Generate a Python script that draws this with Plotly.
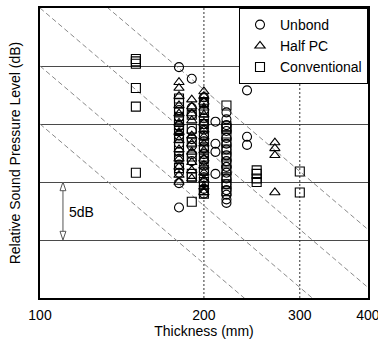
import plotly.graph_objects as go
import numpy as np

FONT = "Arial, Liberation Sans, sans-serif"

# ---- data (thickness in mm, relative SPL in dB) ----
unbond_x = [180]*12 + [190]*8 + [200]*17 + [210]*4 + [220]*17 + [240]*3
unbond_y = [14.9, 2.8, 11.2, 10.6, 9.8, 9.0, 8.3, 7.6, 7.0, 6.5, 5.8, 4.9,
            13.9, 11.4, 10.8, 9.4, 8.7, 8.1, 7.4, 6.8,
            12.3, 11.8, 11.2, 10.5, 10.0, 9.5, 9.0, 8.5, 7.9, 7.4, 6.9, 6.4, 5.9, 5.4, 4.9, 4.4, 4.0,
            10.2, 8.3, 7.6, 5.7,
            11.0, 10.4, 9.9, 9.4, 8.8, 8.3, 7.8, 7.3, 6.8, 6.3, 5.8, 5.3, 4.8, 4.3, 3.9, 3.5, 3.2,
            12.9, 8.9, 8.2]

halfpc_x = [180]*13 + [190]*10 + [200]*16 + [270]*4
halfpc_y = [13.6, 13.1, 12.4, 11.6, 10.9, 10.1, 9.3, 8.6, 7.8, 7.0, 6.3, 5.6, 5.0,
            12.1, 11.5, 10.9, 10.3, 9.0, 8.3, 7.6, 6.7, 6.0, 5.3,
            12.8, 12.4, 11.9, 11.4, 10.8, 10.1, 9.5, 8.9, 8.3, 7.7, 7.0, 6.4, 5.8, 5.2, 4.6, 4.1,
            8.4, 7.9, 7.3, 4.1]

conv_x = [150]*6 + [180]*10 + [190]*7 + [200]*10 + [220]*12 + [250]*4 + [300]*2
conv_y = [15.6, 15.4, 15.2, 13.1, 11.5, 5.8,
          12.2, 11.8, 11.0, 10.4, 9.9, 9.4, 8.8, 8.0, 7.2, 6.2,
          10.8, 9.6, 8.4, 7.2, 5.7, 5.4, 3.3,
          11.9, 11.0, 10.0, 9.0, 8.0, 7.0, 6.0, 5.0, 4.3, 4.0,
          11.6, 9.8, 9.6, 9.0, 8.4, 7.8, 7.2, 6.6, 6.0, 5.4, 4.8, 4.2,
          6.0, 5.7, 5.3, 5.0,
          5.9, 4.1]

# reference lines: level at 100 mm, slope -40 dB/decade
ref_levels = [25, 20, 15, 10]
ref_slope = -40
ref_x = [100, 400]

x_ticks = [100, 200, 300, 400]
y_grid = [0, 5, 10, 15]
guide_x = [200, 300]

fig = go.Figure()

for c in ref_levels:
    fig.add_trace(go.Scatter(
        x=ref_x, y=[c + ref_slope*np.log10(v/100) for v in ref_x],
        mode="lines", line=dict(color="#8a8a8a", width=1, dash="5px,3px"),
        showlegend=False, hoverinfo="skip"))

for gx in guide_x:
    fig.add_trace(go.Scatter(
        x=[gx, gx], y=[-5, 20], mode="lines",
        line=dict(color="#333333", width=1, dash="2px,2px"),
        showlegend=False, hoverinfo="skip"))

mk = dict(size=9, color="black", line=dict(width=1.1, color="black"))
fig.add_trace(go.Scatter(x=unbond_x, y=unbond_y, mode="markers", name="Unbond",
                         legendgroup="a",
                         marker=dict(symbol="circle-open", **mk)))
fig.add_trace(go.Scatter(x=halfpc_x, y=halfpc_y, mode="markers", name="Half PC",
                         legendgroup="b",
                         marker=dict(symbol="triangle-up-open", **mk)))
fig.add_trace(go.Scatter(x=conv_x, y=conv_y, mode="markers", name="Conventional",
                         legendgroup="c",
                         marker=dict(symbol="square-open", **mk)))

# 5 dB scale arrow
ax_x = 0.070
fig.add_shape(type="line", xref="paper", yref="y", x0=ax_x, x1=ax_x, y0=0.1, y1=4.9,
              line=dict(color="#555555", width=1))
hw = 0.009
hh = 0.75
fig.add_shape(type="path", xref="paper", yref="y",
              path=f"M {ax_x-hw} {5-hh} L {ax_x} 5 L {ax_x+hw} {5-hh} Z",
              line=dict(color="#555555", width=1), fillcolor="white")
fig.add_shape(type="path", xref="paper", yref="y",
              path=f"M {ax_x-hw} {hh} L {ax_x} 0 L {ax_x+hw} {hh} Z",
              line=dict(color="#555555", width=1), fillcolor="white")
fig.add_annotation(xref="paper", yref="y", x=0.082, y=2.45, text="5dB",
                   showarrow=False, xanchor="left", yanchor="middle",
                   font=dict(family=FONT, size=14, color="black"))

fig.update_layout(
    width=378, height=341,
    margin=dict(l=40, r=10, t=8, b=43),
    paper_bgcolor="white", plot_bgcolor="white",
    font=dict(family=FONT, size=14, color="black"),
    showlegend=True,
    legend=dict(x=1, xanchor="right", y=1, yanchor="top",
                bgcolor="white", bordercolor="black", borderwidth=1,
                font=dict(family=FONT, size=14, color="black"),
                traceorder="grouped", tracegroupgap=0,
                itemwidth=30),
    xaxis=dict(type="log", range=[np.log10(100), np.log10(400.3)],
               tickvals=x_ticks, ticktext=[str(v) for v in x_ticks],
               showgrid=False, zeroline=False, ticks="",
               ticklabelstandoff=3, ticklabeloverflow="allow", automargin=False,
               showline=True, linecolor="black", linewidth=2, mirror=True,
               title=dict(text="Thickness (mm)", standoff=3,
                          font=dict(family=FONT, size=14))),
    yaxis=dict(range=[-5, 20], tickvals=y_grid, showticklabels=False,
               showgrid=True, gridcolor="#4a4a4a", gridwidth=1,
               zeroline=False, ticks="", automargin=False,
               showline=True, linecolor="black", linewidth=2, mirror=True,
               title=dict(text="Relative Sound Pressure Level (dB)", standoff=14,
                          font=dict(family=FONT, size=14))),
)

fig.write_html("out.html")
